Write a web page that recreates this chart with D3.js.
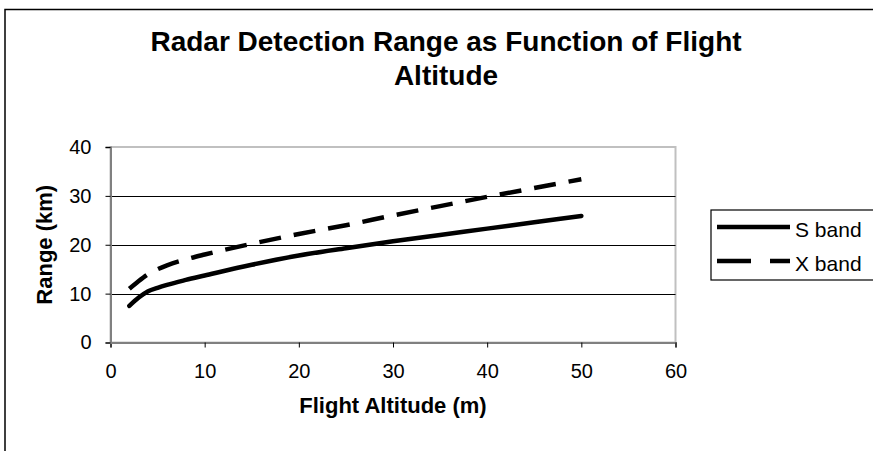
<!DOCTYPE html>
<html lang="en">
<head>
<meta charset="UTF-8">
<title>Radar Detection Range</title>
<style>
  body { margin: 0; background: #fff; }
  text { font-family: "Liberation Sans", Arial, sans-serif; }
</style>
</head>
<body>
<script src="https://d3js.org/d3.v7.min.js"></script>
<script>
    // altitude (m) and detection range (km)
    var altitude = [2, 3, 4, 5, 6, 8, 10, 15, 20, 25, 30, 35, 40, 45, 50];
    var sBand = [7.5, 9.2, 10.5, 11.2, 11.8, 12.8, 13.7, 15.9, 17.8, 19.3, 20.7, 22.0, 23.3, 24.6, 25.9];
    var xBand = [11.0, 12.6, 14.0, 15.0, 15.8, 17.0, 18.0, 20.2, 22.2, 24.0, 26.0, 27.9, 29.8, 31.6, 33.4];
    var xTicks = [0, 10, 20, 30, 40, 50, 60];
    var yTicks = [0, 10, 20, 30, 40];
    var seriesNames = ["S band", "X band"];

    var W = 873, H = 451;
    var svg = d3.select('body').append('svg').attr('width', W).attr('height', H);

    // outer chart border (right/bottom edges fall outside the window)
    svg.append('rect').attr('x', 5).attr('y', 9.5).attr('width', W + 10).attr('height', H + 10)
        .attr('fill', '#fff').attr('stroke', '#000').attr('stroke-width', 1.5);

    var x = d3.scaleLinear().domain([0, 60]).range([110.5, 675.5]);
    var y = d3.scaleLinear().domain([0, 40]).range([342.5, 147]);

    // plot area border (light grey top/right)
    svg.append('rect').attr('x', x(0)).attr('y', y(40)).attr('width', x(60) - x(0)).attr('height', y(0) - y(40))
        .attr('fill', 'none').attr('stroke', '#c0c0c0').attr('stroke-width', 2);

    // gridlines
    svg.append('g').selectAll('line').data(yTicks.filter(function (d) { return d > 0 && d < 40; }))
        .enter().append('line')
        .attr('x1', x(0)).attr('x2', x(60))
        .attr('y1', function (d) { return Math.round(y(d)) + 0.5; })
        .attr('y2', function (d) { return Math.round(y(d)) + 0.5; })
        .attr('stroke', '#000').attr('stroke-width', 1);

    // axes
    var xAxis = d3.axisBottom(x).tickValues(xTicks).tickSize(5).tickPadding(20);
    var gx = svg.append('g').attr('transform', 'translate(0,' + y(0) + ')').call(xAxis);
    var yAxis = d3.axisLeft(y).tickValues(yTicks).tickSize(5).tickPadding(14);
    var gy = svg.append('g').attr('transform', 'translate(' + x(0) + ',0)').call(yAxis);
    [gx, gy].forEach(function (g) {
        g.select('.domain').attr('stroke', '#808080').attr('stroke-width', 2);
        g.selectAll('.tick line').attr('stroke', '#000');
        g.selectAll('.tick text').attr('fill', '#000')
            .style('font-family', '"Liberation Sans", Arial, sans-serif').style('font-size', '20px');
    });
    gx.selectAll('.tick text').attr('dy', '0.5em');

    // lines
    var line = d3.line()
        .x(function (d) { return x(d[0]); })
        .y(function (d) { return y(d[1]); })
        .curve(d3.curveMonotoneX);
    svg.append('path').datum(d3.zip(altitude, sBand)).attr('d', line)
        .attr('fill', 'none').attr('stroke', '#000').attr('stroke-width', 4.5).attr('stroke-linecap', 'round');
    svg.append('path').datum(d3.zip(altitude, xBand)).attr('d', line)
        .attr('fill', 'none').attr('stroke', '#000').attr('stroke-width', 4.5).attr('stroke-dasharray', '22,13');

    // title
    var title = svg.append('text').attr('text-anchor', 'middle').attr('font-weight', 'bold').attr('font-size', 28);
    title.append('tspan').attr('x', 446).attr('y', 51).text('Radar Detection Range as Function of Flight');
    title.append('tspan').attr('x', 446).attr('y', 85).text('Altitude');

    // axis titles
    svg.append('text').attr('x', (x(0) + x(60)) / 2).attr('y', 413).attr('text-anchor', 'middle')
        .attr('font-weight', 'bold').attr('font-size', 22).text('Flight Altitude (m)');
    svg.append('text').attr('transform', 'translate(52,' + ((y(0) + y(40)) / 2) + ') rotate(-90)')
        .attr('text-anchor', 'middle').attr('font-weight', 'bold').attr('font-size', 22).text('Range (km)');

    // legend
    var lg = svg.append('g');
    lg.append('rect').attr('x', 711).attr('y', 210).attr('width', 200).attr('height', 70)
        .attr('fill', '#fff').attr('stroke', '#000').attr('stroke-width', 1.2);
    var dashes = [null, '34,19'];
    seriesNames.forEach(function (name, i) {
        var ly = 227 + i * 34;
        lg.append('line').attr('x1', 717).attr('x2', 790).attr('y1', ly).attr('y2', ly)
            .attr('stroke', '#000').attr('stroke-width', 4.5)
            .attr('stroke-dasharray', dashes[i]);
        lg.append('text').attr('x', 795).attr('y', ly + 10).attr('font-size', 21).text(name);
    });
</script>
</body>
</html>
